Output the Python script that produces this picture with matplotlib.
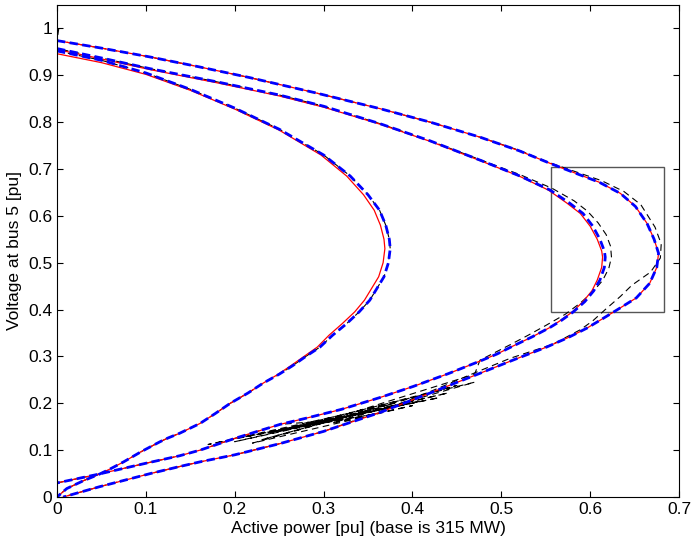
import matplotlib
matplotlib.use("Agg")
import matplotlib.pyplot as plt
from matplotlib.patches import Rectangle

plt.rcParams['font.family'] = ['Liberation Sans', 'DejaVu Sans']

# ---- data ----
# inner curve (blue / black reference)
inner_p = [0.0, 0.05, 0.1, 0.15, 0.2, 0.25, 0.3, 0.33, 0.35, 0.363, 0.37, 0.374, 0.375, 0.373,
           0.368, 0.36, 0.352, 0.34, 0.326, 0.31, 0.296, 0.28, 0.265, 0.25, 0.232, 0.215, 0.195,
           0.178, 0.161, 0.138, 0.125, 0.116, 0.095, 0.075, 0.06, 0.048, 0.03, 0.011, 0.0]
inner_v = [0.952, 0.932, 0.905, 0.87, 0.83, 0.785, 0.73, 0.685, 0.645, 0.612, 0.58, 0.55, 0.53, 0.5,
           0.47, 0.445, 0.42, 0.395, 0.37, 0.345, 0.32, 0.3, 0.28, 0.262, 0.243, 0.222, 0.2,
           0.178, 0.157, 0.136, 0.126, 0.118, 0.097, 0.075, 0.06, 0.049, 0.035, 0.018, 0.0]
# inner curve, red
inner_red_p = [0.0, 0.05, 0.1, 0.15, 0.2, 0.25, 0.297, 0.326, 0.345, 0.357, 0.364, 0.368, 0.369, 0.367,
               0.362, 0.354, 0.346, 0.335, 0.321, 0.306, 0.293, 0.278, 0.263, 0.249, 0.232, 0.215, 0.195,
               0.178, 0.161, 0.138, 0.125, 0.116, 0.095, 0.075, 0.06, 0.048, 0.03, 0.011, 0.0]
inner_red_v = [0.946, 0.927, 0.902, 0.868, 0.828, 0.783, 0.73, 0.685, 0.645, 0.612, 0.58, 0.55, 0.53, 0.5,
               0.47, 0.445, 0.42, 0.395, 0.37, 0.345, 0.32, 0.3, 0.28, 0.262, 0.243, 0.222, 0.2,
               0.178, 0.157, 0.136, 0.126, 0.118, 0.097, 0.075, 0.06, 0.049, 0.035, 0.018, 0.0]

# middle curve
mid_p = [0.0, 0.05, 0.105, 0.18, 0.25, 0.3, 0.363, 0.42, 0.476, 0.521, 0.555, 0.577, 0.592, 0.603,
         0.611, 0.616, 0.617, 0.616, 0.611, 0.604, 0.594, 0.581, 0.567, 0.555, 0.535, 0.513, 0.495,
         0.476, 0.44, 0.401, 0.363, 0.32, 0.28, 0.251, 0.2, 0.161, 0.138, 0.1, 0.045, 0.0]
mid_v = [0.957, 0.937, 0.914, 0.886, 0.858, 0.834, 0.797, 0.76, 0.719, 0.685, 0.655, 0.627, 0.605, 0.578,
         0.55, 0.525, 0.512, 0.49, 0.463, 0.44, 0.417, 0.395, 0.376, 0.362, 0.342, 0.322, 0.305,
         0.29, 0.263, 0.236, 0.212, 0.187, 0.168, 0.155, 0.125, 0.1, 0.088, 0.072, 0.048, 0.03]
mid_red_p = [0.0, 0.05, 0.105, 0.18, 0.25, 0.3, 0.363, 0.42, 0.476, 0.52, 0.553, 0.574, 0.589, 0.600,
             0.608, 0.613, 0.614, 0.613, 0.608, 0.602, 0.592, 0.580, 0.566, 0.555, 0.535, 0.513, 0.495,
             0.476, 0.44, 0.401, 0.363, 0.32, 0.28, 0.251, 0.2, 0.161, 0.138, 0.1, 0.045, 0.0]
mid_red_v = [0.955, 0.935, 0.912, 0.884, 0.856, 0.832, 0.796, 0.759, 0.718, 0.685, 0.655, 0.627, 0.605, 0.578,
             0.55, 0.525, 0.512, 0.49, 0.463, 0.44, 0.417, 0.395, 0.376, 0.362, 0.342, 0.322, 0.305,
             0.29, 0.263, 0.236, 0.212, 0.187, 0.168, 0.155, 0.125, 0.1, 0.088, 0.072, 0.048, 0.03]

# outer curve
out_p = [0.0, 0.05, 0.105, 0.16, 0.217, 0.29, 0.363, 0.42, 0.476, 0.52, 0.555, 0.585, 0.61, 0.634,
         0.651, 0.664, 0.672, 0.677, 0.675, 0.667, 0.652, 0.63, 0.611, 0.596, 0.575, 0.551, 0.513,
         0.476, 0.42, 0.363, 0.3, 0.251, 0.2, 0.161, 0.138, 0.105, 0.048, 0.007]
out_v = [0.974, 0.958, 0.939, 0.918, 0.895, 0.863, 0.829, 0.8, 0.768, 0.739, 0.712, 0.69, 0.672, 0.648,
         0.62, 0.584, 0.55, 0.52, 0.49, 0.456, 0.425, 0.399, 0.377, 0.36, 0.34, 0.32, 0.292,
         0.264, 0.222, 0.18, 0.14, 0.114, 0.09, 0.075, 0.065, 0.05, 0.022, 0.0]

# black (noisy) trajectories
blk_out_p = [0.002, 0.0, 0.05, 0.105, 0.16, 0.217, 0.29, 0.363, 0.42, 0.476, 0.52, 0.555, 0.587, 0.613,
             0.638, 0.657, 0.673, 0.680, 0.679, 0.668, 0.647, 0.634, 0.617, 0.603, 0.589, 0.572, 0.558,
             0.510, 0.474, 0.42, 0.363, 0.3, 0.251, 0.2, 0.161, 0.138, 0.105, 0.048, 0.007]
blk_out_v = [1.0, 0.974, 0.958, 0.939, 0.918, 0.895, 0.863, 0.829, 0.8, 0.768, 0.74, 0.713, 0.692, 0.675,
             0.652, 0.624, 0.576, 0.54, 0.51, 0.48, 0.452, 0.428, 0.4, 0.376, 0.357, 0.34, 0.326,
             0.296, 0.268, 0.225, 0.182, 0.14, 0.114, 0.09, 0.075, 0.065, 0.05, 0.022, 0.0]

blk_mid_p = [0.0, 0.0, 0.05, 0.105, 0.18, 0.25, 0.3, 0.363, 0.42, 0.476, 0.521, 0.557, 0.582, 0.597,
             0.609, 0.618, 0.623, 0.624, 0.621, 0.614, 0.603, 0.589, 0.572, 0.550, 0.530, 0.510, 0.476,
             0.47, 0.29, 0.44, 0.20, 0.41, 0.17, 0.38, 0.23, 0.45, 0.26, 0.43, 0.21, 0.36, 0.24,
             0.47, 0.31, 0.40, 0.22, 0.35, 0.27, 0.32, 0.251, 0.2, 0.161, 0.138, 0.1, 0.045, 0.0]
blk_mid_v = [0.92, 0.957, 0.937, 0.914, 0.886, 0.858, 0.834, 0.797, 0.76, 0.72, 0.688, 0.659, 0.632, 0.61,
             0.585, 0.56, 0.535, 0.512, 0.488, 0.462, 0.438, 0.414, 0.39, 0.366, 0.345, 0.325, 0.292,
             0.262, 0.155, 0.222, 0.118, 0.205, 0.112, 0.2, 0.122, 0.238, 0.145, 0.212, 0.128, 0.178, 0.138,
             0.245, 0.158, 0.195, 0.115, 0.185, 0.15, 0.165, 0.155, 0.125, 0.1, 0.088, 0.072, 0.048, 0.03]

# zoom box
box_p = [0.556, 0.683]
box_v = [0.395, 0.704]

x_ticks = [0, 0.1, 0.2, 0.3, 0.4, 0.5, 0.6, 0.7]
x_labels = ['0', '0.1', '0.2', '0.3', '0.4', '0.5', '0.6', '0.7']
y_ticks = [0, 0.1, 0.2, 0.3, 0.4, 0.5, 0.6, 0.7, 0.8, 0.9, 1.0]
y_labels = ['0', '0.1', '0.2', '0.3', '0.4', '0.5', '0.6', '0.7', '0.8', '0.9', '1']

# ---- plot ----
fig = plt.figure(figsize=(6.92, 5.5), dpi=100)
ax = fig.add_axes([57 / 692, 1 - 497 / 550, (679 - 57) / 692, (497 - 5) / 550])

blk_kw = dict(color='black', lw=0.8, dashes=(6, 4))
ax.plot(blk_out_p, blk_out_v, **blk_kw)
ax.plot(blk_mid_p, blk_mid_v, **blk_kw)
ax.plot(inner_p, inner_v, **blk_kw)

red_kw = dict(color='red', lw=0.9)
ax.plot(inner_red_p, inner_red_v, **red_kw)
ax.plot(mid_red_p, mid_red_v, **red_kw)
ax.plot(out_p, out_v, **red_kw)

blue_kw = dict(color='blue', lw=2.0, dashes=(3, 1.6))
ax.plot(inner_p, inner_v, **blue_kw)
ax.plot(mid_p, mid_v, **blue_kw)
ax.plot(out_p, out_v, **blue_kw)

ax.add_patch(Rectangle((box_p[0], box_v[0]), box_p[1] - box_p[0], box_v[1] - box_v[0],
                       fill=False, edgecolor='#555555', lw=1.0))

ax.set_xlim(0, 0.7)
ax.set_ylim(0, 1.05)
ax.set_xticks(x_ticks)
ax.set_xticklabels(x_labels)
ax.set_yticks(y_ticks)
ax.set_yticklabels(y_labels)
ax.tick_params(direction='in', top=True, right=True, length=4, labelsize=12.5, width=0.8)
for s in ax.spines.values():
    s.set_linewidth(0.8)
ax.set_xlabel('Active power [pu] (base is 315 MW)', fontsize=12.5, labelpad=3)
ax.set_ylabel('Voltage at bus 5 [pu]', fontsize=12.5, labelpad=4)

fig.savefig('out.png', dpi=100)
